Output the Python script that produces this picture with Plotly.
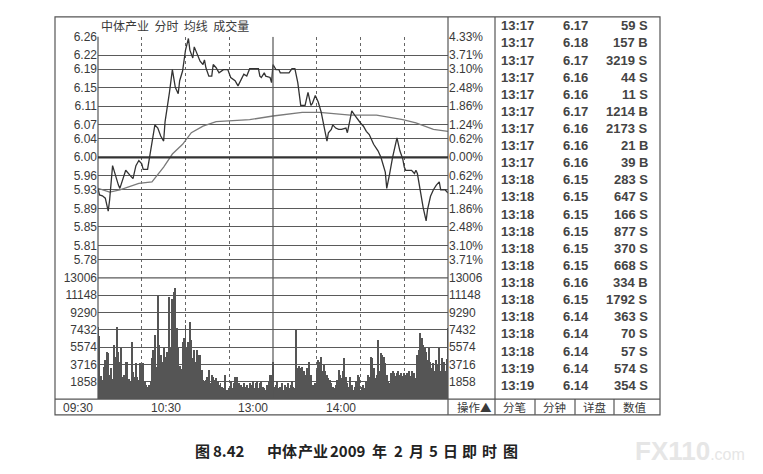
import plotly.graph_objects as go

# page body has an 8px margin; the figure is drawn at page offset (8, 8)
OFF = 8
W, H = 763 - 2 * OFF, 474 - 2 * OFF

# ---------------- data ----------------
price_t = [0,1,3,5,7,8,10,12,14,15,17,19,22,24,26,28,30,31,34,35,39,41,43,45,46,49,51,53,55,56,58,
           60,62,63,65,66,68,70,72,73,74,76,78,79,81,83,86,89,91,94,96,98,100,102,104,110,111,112,114,
           115,118,119,120,122,124,125,127,131,133,135,137,139,142,144,146,147,149,151,153,155,157,158,
           160,161,163,165,167,170,171,173,174,176,178,180,182,184,186,189,192,194,197,198,200,202,205,
           207,209,210,211,215,217,218,219,221,223,225,226,228,230,232,234,235,238,240]
price_v = [5.933,5.919,5.917,5.912,5.884,5.909,5.982,5.958,5.940,5.933,5.951,5.972,5.961,5.954,5.982,
           5.993,5.986,5.974,5.974,5.993,6.070,6.063,6.046,6.035,6.077,6.140,6.189,6.151,6.137,6.165,
           6.186,6.231,6.256,6.231,6.214,6.238,6.224,6.207,6.200,6.210,6.193,6.175,6.175,6.200,6.193,
           6.182,6.189,6.189,6.172,6.165,6.154,6.168,6.179,6.175,6.191,6.191,6.175,6.172,6.182,6.175,
           6.172,6.161,6.200,6.189,6.189,6.182,6.182,6.182,6.191,6.191,6.161,6.112,6.112,6.140,6.112,
           6.116,6.133,6.119,6.098,6.063,6.035,6.053,6.060,6.070,6.063,6.060,6.060,6.063,6.053,6.084,
           6.100,6.091,6.081,6.074,6.067,6.056,6.049,6.028,6.014,6.000,5.968,5.933,5.965,6.000,6.042,
           6.014,5.996,5.979,5.972,5.972,5.965,5.972,5.965,5.926,5.891,5.863,5.888,5.916,5.930,5.940,
           5.947,5.930,5.930,5.923]

avg_t = [0,8,15,28,37,45,51,58,64,72,81,104,120,140,152,173,191,209,218,230,240]
avg_v = [5.933,5.925,5.930,5.944,5.947,5.979,6.007,6.028,6.053,6.067,6.077,6.081,6.089,6.097,6.097,
         6.091,6.091,6.081,6.074,6.060,6.056]

volume = [7780,6800,2500,2070,3500,4200,5100,4900,2600,3300,
          2200,5800,4570,7780,5100,4000,5460,2400,2600,4000,
          4000,2200,1900,6180,2900,2400,3860,2400,2000,3860,
          3700,3860,1900,1500,1350,1500,1900,4400,5280,6900,
          3500,11170,5800,4750,4030,5460,4570,5100,3600,11000,
          5460,10800,11530,11890,7600,5460,3600,3250,6180,6530,
          7960,5460,6180,8320,6350,4400,5280,4030,5280,4750,
          4750,3140,2070,1900,2070,2400,3140,1700,2600,2400,
          2070,2250,1900,1500,1700,1350,1150,2600,1000,1000,
          1150,1900,1150,1700,2400,2400,1350,1700,1500,1350,
          1700,1350,1500,1150,1700,1500,1900,1150,1700,1900,
          1150,1700,1900,1350,1150,1000,1500,1900,2600,2600,
          4030,1350,1500,1900,1150,1350,1700,1000,1500,1350,
          1700,1150,1500,1900,1350,1150,7400,3300,3600,3300,
          3500,3000,2600,3300,2000,4030,2600,1500,1500,1700,
          3140,4200,4030,4570,2970,3700,2970,2600,2250,2070,
          1700,1350,1150,1500,2070,3140,2600,2250,2970,4400,
          2400,1700,1350,2400,1500,1000,1350,1900,2600,2400,
          1000,1350,1500,1150,1900,2600,2400,4570,4400,3300,
          2250,2600,6350,2970,4930,4750,4570,3860,2600,1900,
          1700,2800,2970,2800,2450,2800,2970,2600,2800,2450,
          2800,2600,2800,2970,2450,2970,2600,2800,2250,4750,
          5280,7070,6530,5800,5460,5100,4200,5460,4030,3300,
          3860,2970,4200,3700,5460,2970,4400,4030,3000,4300,
          7600]
minutes = list(range(len(volume)))

price_ticks = [6.26,6.22,6.19,6.15,6.11,6.07,6.04,6.00,5.96,5.93,5.89,5.85,5.81,5.78]
price_tick_text = ["6.26","6.22","6.19","6.15","6.11","6.07","6.04","6.00","5.96","5.93","5.89",
                   "5.85","5.81","5.78"]
pct_tick_text = ["4.33%","3.71%","3.10%","2.48%","1.86%","1.24%","0.62%","0.00%","0.62%","1.24%",
                 "1.86%","2.48%","3.10%","3.71%"]
vol_ticks = [1858,3716,5574,7432,9290,11148,13006]
vol_tick_text = ["1858","3716","5574","7432","9290","11148","13006"]
time_labels = ["09:30","10:30","13:00","14:00"]
time_label_pos = [0,60,120,180]

tick_times = ["13:17"]*9 + ["13:18"]*11 + ["13:19"]*2
tick_prices = ["6.17","6.18","6.17","6.16","6.16","6.17","6.16","6.16","6.16","6.15","6.15",
               "6.15","6.15","6.15","6.15","6.16","6.15","6.14","6.14","6.14","6.14","6.14"]
tick_vols = ["59","157","3219","44","11","1214","2173","21","39","283","647",
             "166","877","370","668","334","1792","363","70","57","574","354"]
tick_sides = ["S","B","S","S","S","B","S","B","B","S","S",
              "S","S","S","S","B","S","S","S","S","S","S"]

buttons = ["操作▲","分笔","分钟","详盘","数值"]
button_x = [474,514,554,594,635]

title_text = "中体产业  分时  均线  成交量"
caption_parts = ["图","8.42","中","体","产","业","2009","年","2","月","5","日","即","时","图"]
caption_x = [193,211,265,280,296,311,328,370,392,407,427,441,460,480,501]

# ---------------- helpers ----------------
def px(x):
    return (x - OFF) / W

def py(y):
    return 1 - (y - OFF) / H

X0, X1 = 98, 448
PY0, PY1 = 30, 275
VY0, VY1 = 275, 398
RIGHT = 660

FONT = "Liberation Sans, Arial, sans-serif"
CJK = "Noto Sans CJK SC, sans-serif"
GRID = "#5a5a5a"
TXT = "#3a3a3a"

fig = go.Figure()

fig.add_trace(go.Scatter(x=avg_t, y=avg_v, mode="lines", line=dict(color="#7a7a7a", width=1.3),
                         xaxis="x", yaxis="y", hoverinfo="skip"))
fig.add_trace(go.Scatter(x=price_t, y=price_v, mode="lines", line=dict(color="#333333", width=1.3),
                         xaxis="x", yaxis="y", hoverinfo="skip"))
fig.add_trace(go.Bar(x=minutes, y=volume, width=0.65, marker=dict(color="#555555", line=dict(width=0)),
                     xaxis="x2", yaxis="y2", hoverinfo="skip"))
fig.add_trace(go.Scatter(x=[None], y=[None], xaxis="x", yaxis="y3", showlegend=False))
fig.add_trace(go.Scatter(x=[None], y=[None], xaxis="x2", yaxis="y4", showlegend=False))

xcommon = dict(range=[0, 240], domain=[px(X0), px(X1)], tickvals=[30, 60, 90, 150, 180, 210],
               showgrid=True, gridcolor="#666666", gridwidth=1, griddash="dot",
               showticklabels=False, zeroline=False, showline=False, ticks="")
tf = dict(family=FONT, size=12, color=TXT)

fig.update_layout(
    width=W, height=H, margin=dict(l=0, r=0, t=0, b=0),
    paper_bgcolor="white", plot_bgcolor="white", showlegend=False, bargap=0,
    xaxis=dict(anchor="y", **xcommon),
    xaxis2=dict(anchor="y2", matches="x", **xcommon),
    yaxis=dict(domain=[py(PY1), py(PY0)], range=[5.74, 6.26], tickvals=price_ticks,
               ticktext=price_tick_text, showgrid=True, gridcolor=GRID, gridwidth=1.4,
               zeroline=False, ticks="", tickfont=tf),
    yaxis3=dict(overlaying="y", side="right", range=[5.74, 6.26], tickvals=price_ticks,
                ticktext=pct_tick_text, showgrid=False, zeroline=False, ticks="", tickfont=tf),
    yaxis2=dict(domain=[py(VY1), py(VY0)], range=[0, 13006], tickvals=vol_ticks,
                ticktext=vol_tick_text, showgrid=True, gridcolor=GRID, gridwidth=1.4,
                zeroline=False, ticks="", anchor="x2", tickfont=tf),
    yaxis4=dict(overlaying="y2", side="right", range=[0, 13006], tickvals=vol_ticks,
                ticktext=vol_tick_text, showgrid=False, zeroline=False, ticks="", anchor="x2",
                tickfont=tf),
)

shapes = []
def pline(x0, y0, x1, y1, color="#555555", width=1.2):
    shapes.append(dict(type="line", xref="paper", yref="paper", x0=px(x0), y0=py(y0),
                       x1=px(x1), y1=py(y1), line=dict(color=color, width=width)))

shapes.append(dict(type="rect", xref="paper", yref="paper", x0=px(55), y0=py(414), x1=px(RIGHT),
                   y1=py(10), line=dict(color="#555555", width=1.2)))
pline(X0, PY0, X0, VY1)
pline(X1, 10, X1, 414)
pline(495, 10, 495, 414)
pline(55, VY1, RIGHT, VY1)
for bx in [535, 575, 614]:
    pline(bx, VY1, bx, 414)
shapes.append(dict(type="line", xref="paper", yref="y", x0=px(X0), x1=px(X1), y0=6.0, y1=6.0,
                   line=dict(color="#333333", width=2.2)))
for yr, (a, b) in [("y", (5.74, 6.26)), ("y2", (0, 13006))]:
    shapes.append(dict(type="line", xref="x", yref=yr, x0=120, x1=120, y0=a, y1=b,
                       line=dict(color="#555555", width=1.2)))
pline(X0, VY0, X1, VY0, color=GRID, width=1.4)
fig.update_layout(shapes=shapes)

ann = []
ann.append(dict(xref="paper", yref="paper", x=px(99), y=py(19), text=title_text, showarrow=False,
                xanchor="left", yanchor="middle", font=dict(family=CJK, size=12, color=TXT)))
for lab, t in zip(time_labels, time_label_pos):
    ann.append(dict(xref="x", yref="paper", x=t, y=py(407), text=lab, showarrow=False,
                    xanchor="right", yanchor="middle", xshift=-3, font=tf))
for lab, bx in zip(buttons, button_x):
    ann.append(dict(xref="paper", yref="paper", x=px(bx), y=py(406.5), text=lab, showarrow=False,
                    xanchor="center", yanchor="middle", font=dict(family=CJK, size=11.5, color=TXT)))
for i in range(len(tick_times)):
    yy = py(19 + 17.38 * i)
    f = dict(family=FONT, size=13, color="#444444")
    ann.append(dict(xref="paper", yref="paper", x=px(499), y=yy, text="<b>%s</b>" % tick_times[i],
                    showarrow=False, xanchor="left", yanchor="middle", font=f))
    ann.append(dict(xref="paper", yref="paper", x=px(561), y=yy, text="<b>%s</b>" % tick_prices[i],
                    showarrow=False, xanchor="left", yanchor="middle", font=f))
    ann.append(dict(xref="paper", yref="paper", x=px(650), y=yy,
                    text="<b>%s %s</b>" % (tick_vols[i], tick_sides[i]),
                    showarrow=False, xanchor="right", yanchor="middle", font=f))
for part, cx in zip(caption_parts, caption_x):
    ann.append(dict(xref="paper", yref="paper", x=px(cx), y=py(450), text="<b>%s</b>" % part,
                    showarrow=False, xanchor="left", yanchor="middle",
                    font=dict(family=CJK, size=15, color="#222222")))
ann.append(dict(xref="paper", yref="paper", x=px(633), y=py(451),
                text="<b>FX110</b><span style='font-size:16px'>.com</span>",
                showarrow=False, xanchor="left", yanchor="middle",
                font=dict(family=FONT, size=26, color="#e6e6e6")))
fig.update_layout(annotations=ann)

fig.write_html("out.html")
